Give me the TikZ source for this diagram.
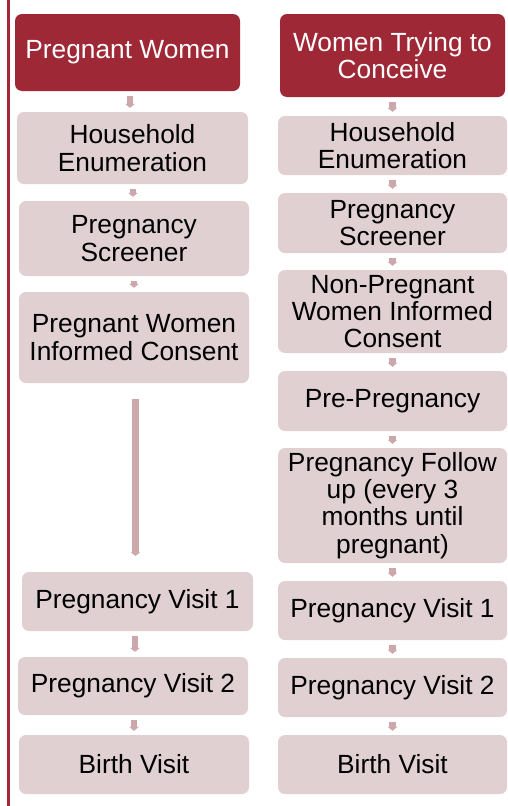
\documentclass[tikz,border=0pt]{standalone}
\usepackage{fontspec}
\setmainfont{Liberation Sans}
\usetikzlibrary{arrows.meta}
\definecolor{darkred}{RGB}{158,40,54}
\definecolor{pinkfill}{RGB}{224,208,210}
\definecolor{arrowc}{RGB}{204,168,173}
\definecolor{sideline}{RGB}{165,40,56}
\tikzset{
  box/.style={rounded corners=7pt, inner sep=0pt, align=center,
    font=\fontsize{26.3}{27.2}\selectfont},
  redbox/.style={box, fill=darkred, text=white},
  pinkbox/.style={box, fill=pinkfill, text=black},
  conn/.style={draw=arrowc, line width=6.5pt, -{Triangle[width=9.5pt,length=4pt]},
    shorten <=5pt, shorten >=4pt},
  longconn/.style={draw=arrowc, line width=7pt, -{Triangle[width=9.5pt,length=3.5pt]},
    shorten <=16pt, shorten >=16pt},
}
\begin{document}
\begin{tikzpicture}[x=1pt,y=-1pt]
\useasboundingbox (0,0) rectangle (507,806);
\fill[white] (0,0) rectangle (507,806);
% side line
\draw[sideline, line width=3pt] (8.7,0) -- (8.7,806);
% left column
\node[redbox, minimum width=225pt, minimum height=77pt] (l1) at (127.5,52.5) {Pregnant Women};
\node[pinkbox, minimum width=231pt, minimum height=72pt] (l2) at (132.5,148) {Household\\Enumeration};
\node[pinkbox, minimum width=230pt, minimum height=75pt] (l3) at (134,238.5) {Pregnancy\\Screener};
\node[pinkbox, minimum width=230pt, minimum height=91pt] (l4) at (134,337.5) {Pregnant Women\\Informed Consent};
\node[pinkbox, minimum width=231pt, minimum height=59pt] (l5) at (137.5,601.5) {Pregnancy Visit 1};
\node[pinkbox, minimum width=230pt, minimum height=58pt] (l6) at (133,686) {Pregnancy Visit 2};
\node[pinkbox, minimum width=230pt, minimum height=59pt] (l7) at (134,764.5) {Birth Visit};
% right column
\node[redbox, minimum width=225pt, minimum height=83pt] (r1) at (392.5,55.5) {Women Trying to\\Conceive};
\node[pinkbox, minimum width=229pt, minimum height=59pt] (r2) at (392.5,145.5) {Household\\Enumeration};
\node[pinkbox, minimum width=229pt, minimum height=60pt] (r3) at (392.5,223) {Pregnancy\\Screener};
\node[pinkbox, minimum width=229pt, minimum height=83pt] (r4) at (392.5,311.5) {Non-Pregnant\\Women Informed\\Consent};
\node[pinkbox, minimum width=229pt, minimum height=60pt] (r5) at (392.5,401) {Pre-Pregnancy};
\node[pinkbox, minimum width=229pt, minimum height=115pt] (r6) at (392.5,505.5) {Pregnancy Follow\\up (every 3\\months until\\pregnant)};
\node[pinkbox, minimum width=229pt, minimum height=59pt] (r7) at (392.5,610.5) {Pregnancy Visit 1};
\node[pinkbox, minimum width=229pt, minimum height=59pt] (r8) at (392.5,687.5) {Pregnancy Visit 2};
\node[pinkbox, minimum width=229pt, minimum height=59pt] (r9) at (392.5,764.5) {Birth Visit};
% left connectors
\draw[conn] (l1.south -| 130,0) -- (l2.north -| 130,0);
\draw[conn] (l2.south -| 133,0) -- (l3.north -| 133,0);
\draw[conn] (l3.south -| 134,0) -- (l4.north -| 134,0);
\draw[longconn] (l4.south -| 135.5,0) -- (l5.north -| 135.5,0);
\draw[conn, shorten <=5pt, shorten >=5pt] (l5.south -| 135,0) -- (l6.north -| 135,0);
\draw[conn] (l6.south -| 134,0) -- (l7.north -| 134,0);
% right connectors
\draw[conn] (r1) -- (r2);
\draw[conn] (r2) -- (r3);
\draw[conn] (r3) -- (r4);
\draw[conn] (r4) -- (r5);
\draw[conn] (r5) -- (r6);
\draw[conn] (r6) -- (r7);
\draw[conn] (r7) -- (r8);
\draw[conn] (r8) -- (r9);
\end{tikzpicture}
\end{document}
